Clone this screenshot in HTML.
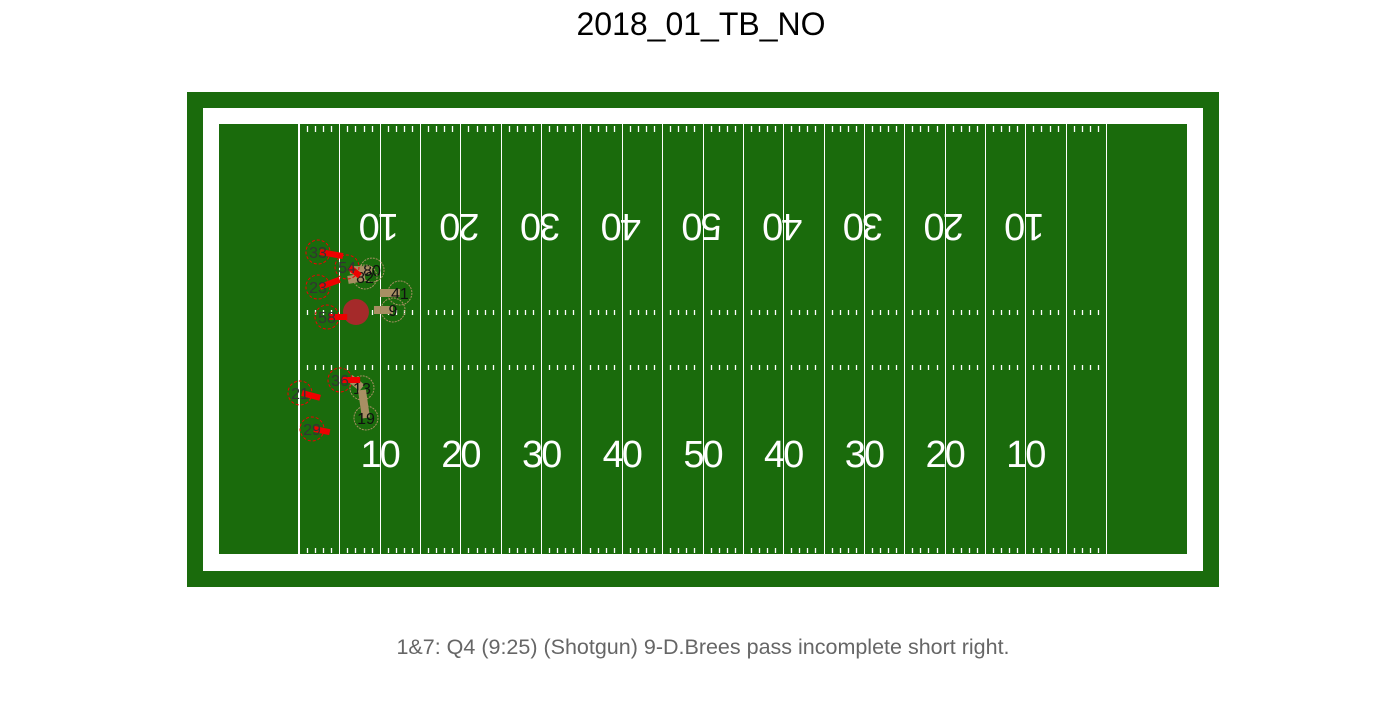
<!DOCTYPE html>
<html><head><meta charset="utf-8"><style>
body{margin:0;background:#fff;width:1400px;height:700px;overflow:hidden;font-family:"Liberation Sans",sans-serif}
</style></head><body>
<svg id="chart" width="1400" height="700" xmlns="http://www.w3.org/2000/svg">
<text x="701" y="35" text-anchor="middle" font-size="32" font-family="Liberation Sans, sans-serif" fill="#000">2018_01_TB_NO</text>
<rect x="187" y="92" width="1032" height="495" fill="#1a6b0c"/>
<rect x="203" y="108" width="1000" height="463" fill="#fff"/>
<rect x="219" y="124" width="968" height="430" fill="#1a6b0c"/>
<g id="lines"></g><g id="players"></g>
<text x="703" y="654" text-anchor="middle" font-size="21.5" font-family="Liberation Sans, sans-serif" fill="#666">1&amp;7: Q4 (9:25) (Shotgun) 9-D.Brees pass incomplete short right.</text>
</svg>
<script>
const yardNumbers=[10,20,30,40,50,40,30,20,10];
const defJersey=["33","54","23","58","36","21","29"];
const defX=[2.35,5.95,2.35,3.47,5.08,0.12,1.61];
const defY=[37.44,35.58,33.1,29.38,21.58,19.97,15.51];
const defDX=[3.1,1.6,2.7,2.5,2.5,2.5,2.2];
const defDY=[-0.5,-1.1,0.9,0,0,-0.6,-0.4];
const offJersey=["80","82","41","9","13","19"];
const offX=[9.05,8.18,12.5,11.65,7.8,8.3];
const offY=[35.2,34.34,32.36,30.25,20.6,16.87];
const offFromX=[6.3,6.07,10.04,9.29,6.3,7.8];
const offFromY=[35.2,33.97,32.36,30.25,21.82,20.35];
const ballX=[7.06], ballY=[30.0];

const X0=299, S=8.07, YTOP=124;
const sx=yd=>X0+yd*S;
const sy=yd=>YTOP+(53.3-yd)*S;
const NS="http://www.w3.org/2000/svg";
function mk(tag,attrs,parent){const e=document.createElementNS(NS,tag);for(const k in attrs)e.setAttribute(k,attrs[k]);parent.appendChild(e);return e;}
const L=document.getElementById('lines');
for(let yd=0;yd<=100;yd+=5){
  const x=Math.round(sx(yd))+(yd===0?0:0.5);
  const l=mk('line',{x1:x,x2:x,y1:124,y2:554,stroke:'#fff','stroke-width':(yd===0)?2:1},L);
  
  
}
for(let yd=1;yd<100;yd++){
  if(yd%5===0)continue;
  const x=Math.round(sx(yd))+0.5;
  [[126,132],[548,553],[310,315],[365,370]].forEach(r=>{
    const t=mk('line',{x1:x,x2:x,y1:r[0],y2:r[1],stroke:'#fff','stroke-width':1.3},L);
    
    
  });
}
yardNumbers.forEach((n,i)=>{
  const x=sx((i+1)*10);
  const b=mk('text',{x:x,y:467,'text-anchor':'middle','font-size':38,fill:'#fff','font-family':'Liberation Sans, sans-serif','letter-spacing':-2},L);
  b.textContent=n;
  
  
  const t=mk('text',{x:x,y:242,'text-anchor':'middle','font-size':38,fill:'#fff','font-family':'Liberation Sans, sans-serif','letter-spacing':-2,transform:`rotate(180 ${x} 228)`},L);
  t.textContent=n;
  
  
});
const P=document.getElementById('players');
offJersey.forEach((j,i)=>{
  const g=mk('g',{},P);
  
  
  mk('line',{x1:sx(offFromX[i]),y1:sy(offFromY[i]),x2:sx(offX[i]),y2:sy(offY[i]),stroke:'#a88f63','stroke-width':8},g);
  mk('circle',{cx:sx(offX[i]),cy:sy(offY[i]),r:12,fill:'none',stroke:'#a88f63','stroke-width':1,'stroke-dasharray':'2 1'},g);
  const t=mk('text',{x:sx(offX[i]),y:sy(offY[i])+6,'text-anchor':'middle','font-size':16,fill:'#111'},g);t.textContent=j;
});
ballX.forEach((b,i)=>{
  const c=mk('circle',{cx:sx(b),cy:sy(ballY[i]),r:13,fill:'#a52a2a'},P);
  
  
});
defJersey.forEach((j,i)=>{
  const g=mk('g',{},P);
  
  
  const x=sx(defX[i]),y=sy(defY[i]);
  mk('line',{x1:x+2,y1:y,x2:sx(defX[i]+defDX[i]),y2:sy(defY[i]+defDY[i]),stroke:'#e00','stroke-width':6},g);
  mk('circle',{cx:x,cy:y,r:12,fill:'none',stroke:'#e00','stroke-width':1,'stroke-dasharray':'3 2'},g);
  const t=mk('text',{x:x,y:y+6,'text-anchor':'middle','font-size':16,fill:'#333'},g);t.textContent=j;
});
</script>
</body></html>
